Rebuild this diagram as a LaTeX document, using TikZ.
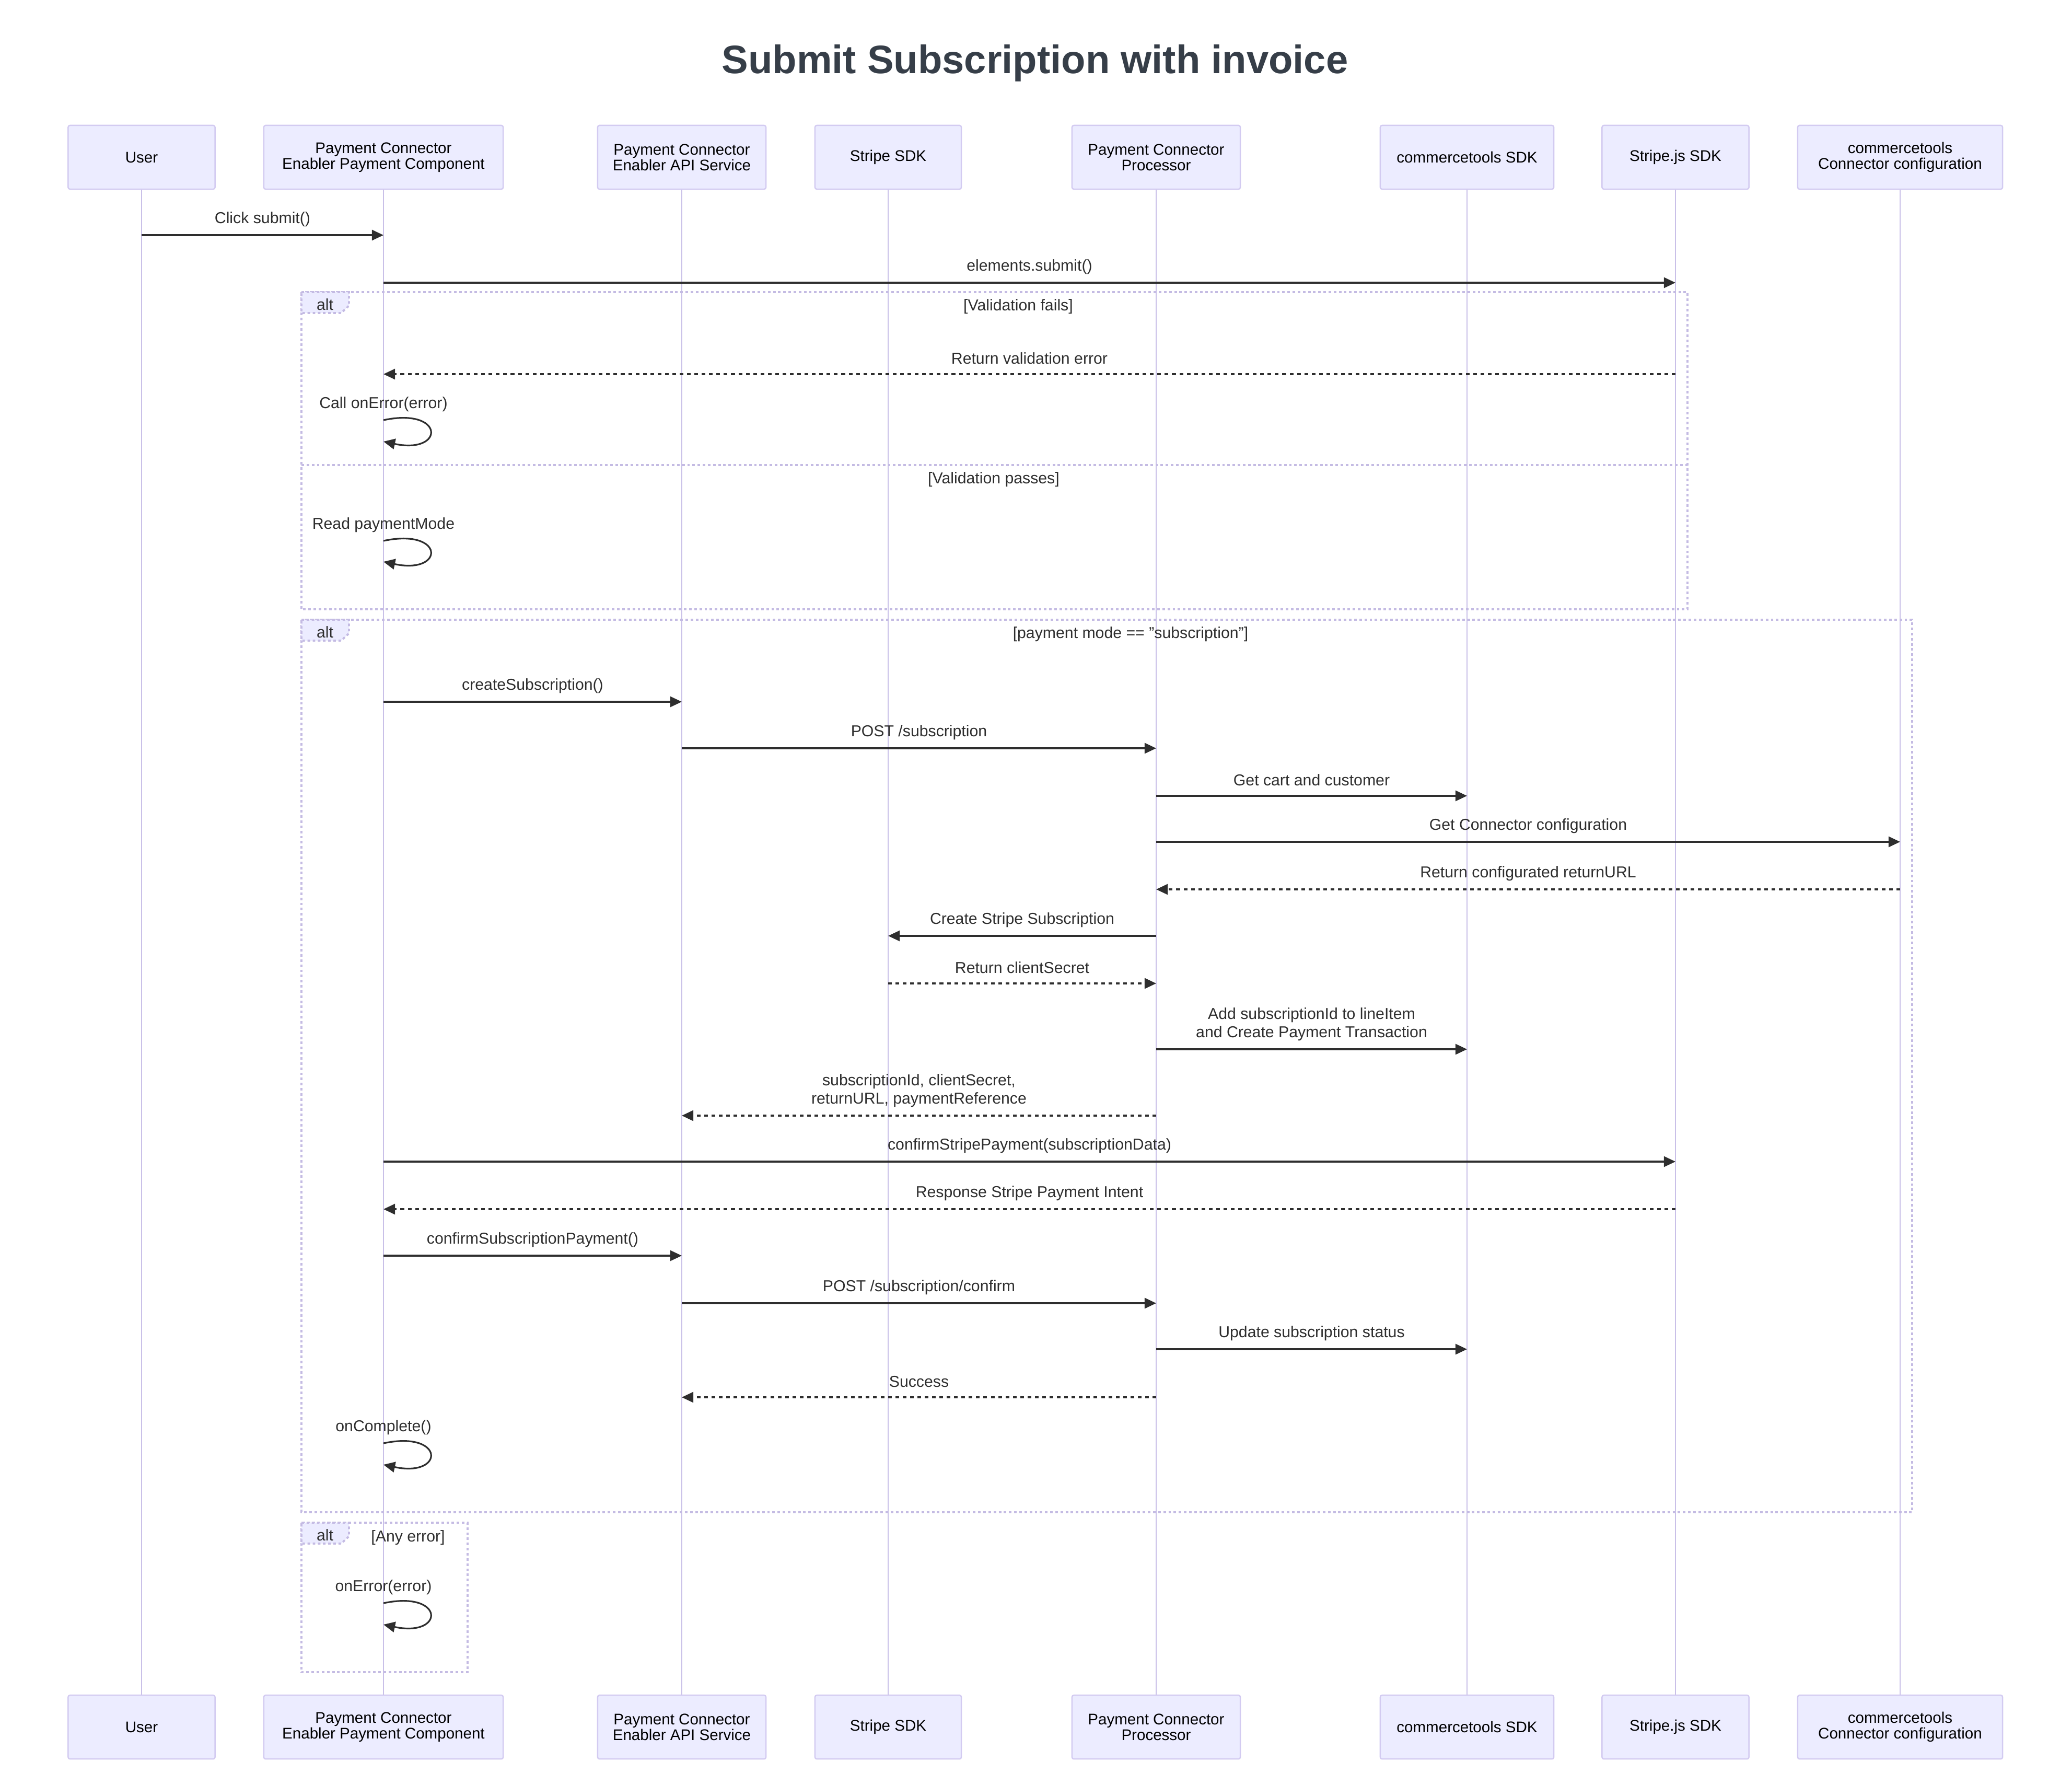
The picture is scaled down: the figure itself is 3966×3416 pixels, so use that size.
\documentclass[tikz,border=0pt]{standalone}
\usepackage{fontspec}
\setmainfont{Liberation Sans}
\usetikzlibrary{arrows.meta,positioning}
\definecolor{actfill}{HTML}{ECECFF}
\definecolor{actline}{HTML}{D3CBF1}
\definecolor{lifeln}{HTML}{C9C0E8}
\definecolor{msgcol}{HTML}{2E2E2E}
\definecolor{titlecol}{HTML}{363E48}
\definecolor{altline}{HTML}{C4BBE3}
\begin{document}
\begin{tikzpicture}[x=0.01cm,y=-0.01cm,
	actor/.style={draw=actline,fill=actfill,line width=0.7pt,rounded corners=1pt,minimum height=1.22cm,inner sep=0pt,align=center,text=black,font=\fontsize{8.4pt}{8.5pt}\selectfont},
	lifeline/.style={draw=lifeln,line width=0.6pt},
	msg/.style={draw=msgcol,line width=0.9pt,-{Triangle[length=6.3pt,width=5.7pt]}},
	reply/.style={msg,dash pattern=on 2pt off 2pt},
	lbl/.style={text=msgcol,align=center,font=\fontsize{8.6pt}{10pt}\selectfont},
	altbox/.style={draw=altline,line width=1.1pt,dash pattern=on 1.4pt off 1.4pt},
	alttab/.style={altbox,fill=actfill}]
	\useasboundingbox (0,0) rectangle (3966,3416);

	\node[font=\bfseries\fontsize{21.6pt}{24pt}\selectfont,text=titlecol] (title) at (1981,121) {Submit Subscription with invoice};

	\node[actor,minimum width=2.81cm] (p1) at (271,301) {User};
	\node[actor,minimum width=4.58cm] (p2) at (734,301) {Payment Connector\\Enabler Payment Component};
	\node[actor,minimum width=3.22cm] (p3) at (1305,301) {Payment Connector\\Enabler API Service};
	\node[actor,minimum width=2.80cm] (p4) at (1700,301) {Stripe SDK};
	\node[actor,minimum width=3.22cm] (p5) at (2213,301) {Payment Connector\\Processor};
	\node[actor,minimum width=3.32cm] (p6) at (2808,301) {commercetools SDK};
	\node[actor,minimum width=2.81cm] (p7) at (3207,301) {Stripe.js SDK};
	\node[actor,minimum width=3.92cm] (p8) at (3637,301) {commercetools\\Connector configuration};

	\node[actor,minimum width=2.81cm] (q1) [below=28.78cm of p1] {User};
	\node[actor,minimum width=4.58cm] (q2) [below=28.78cm of p2] {Payment Connector\\Enabler Payment Component};
	\node[actor,minimum width=3.22cm] (q3) [below=28.78cm of p3] {Payment Connector\\Enabler API Service};
	\node[actor,minimum width=2.80cm] (q4) [below=28.78cm of p4] {Stripe SDK};
	\node[actor,minimum width=3.22cm] (q5) [below=28.78cm of p5] {Payment Connector\\Processor};
	\node[actor,minimum width=3.32cm] (q6) [below=28.78cm of p6] {commercetools SDK};
	\node[actor,minimum width=2.81cm] (q7) [below=28.78cm of p7] {Stripe.js SDK};
	\node[actor,minimum width=3.92cm] (q8) [below=28.78cm of p8] {commercetools\\Connector configuration};

	\draw[lifeline] (p1) -- (q1);
	\draw[lifeline] (p2) -- (q2);
	\draw[lifeline] (p3) -- (q3);
	\draw[lifeline] (p4) -- (q4);
	\draw[lifeline] (p5) -- (q5);
	\draw[lifeline] (p6) -- (q6);
	\draw[lifeline] (p7) -- (q7);
	\draw[lifeline] (p8) -- (q8);

	\draw[altbox] (577,559) rectangle (3230,1166);
	\draw[altbox] (577,890) -- (3230,890);
	\draw[alttab] (577,559) -- (668,559) -- (668,585) -- (653,599) -- (577,599) -- cycle;
	\node[lbl] (alt1) at (622,583) {alt};
	\node[lbl] (fails) at (1949,587) {[Validation fails]};
	\node[lbl] (passes) at (1902,918) {[Validation passes]};

	\draw[altbox] (577,1186) rectangle (3660,2894);
	\draw[alttab] (577,1186) -- (668,1186) -- (668,1212) -- (653,1226) -- (577,1226) -- cycle;
	\node[lbl] (alt2) at (622,1210) {alt};
	\node[lbl] (mode) at (2164,1214) {[payment mode == "subscription"]};

	\draw[altbox] (577,2914) rectangle (895,3200);
	\draw[alttab] (577,2914) -- (668,2914) -- (668,2940) -- (653,2954) -- (577,2954) -- cycle;
	\node[lbl] (alt3) at (622,2938) {alt};
	\node[lbl] (anyerr) at (781,2943) {[Any error]};

	\draw[msg] (p1 |- 0,450) -- node[lbl,yshift=0.30cm] {Click submit()} (p2 |- 0,450);
	\draw[msg] (p2 |- 0,541) -- node[lbl,yshift=0.30cm] {elements.submit()} (p7 |- 0,541);
	\draw[reply] (p7 |- 0,716) -- node[lbl,yshift=0.30cm] {Return validation error} (p2 |- 0,716);
	\draw[msg] (p2 |- 0,804) .. controls +(118,-25) and +(118,25) .. node[lbl,pos=0,yshift=0.30cm] {Call onError(error)} (p2 |- 0,845);
	\draw[msg] (p2 |- 0,1035) .. controls +(118,-25) and +(118,25) .. node[lbl,pos=0,yshift=0.30cm] {Read paymentMode} (p2 |- 0,1075);

	\draw[msg] (p2 |- 0,1343) -- node[lbl,yshift=0.30cm] {createSubscription()} (p3 |- 0,1343);
	\draw[msg] (p3 |- 0,1432) -- node[lbl,yshift=0.30cm] {POST /subscription} (p5 |- 0,1432);
	\draw[msg] (p5 |- 0,1523) -- node[lbl,yshift=0.30cm] {Get cart and customer} (p6 |- 0,1523);
	\draw[msg] (p5 |- 0,1611) -- node[lbl,yshift=0.30cm] {Get Connector configuration} (p8 |- 0,1611);
	\draw[reply] (p8 |- 0,1702) -- node[lbl,yshift=0.30cm] {Return configurated returnURL} (p5 |- 0,1702);
	\draw[msg] (p5 |- 0,1791) -- node[lbl,yshift=0.30cm] {Create Stripe Subscription} (p4 |- 0,1791);
	\draw[reply] (p4 |- 0,1882) -- node[lbl,yshift=0.30cm] {Return clientSecret} (p5 |- 0,1882);
	\draw[msg] (p5 |- 0,2008) -- node[lbl,yshift=0.48cm] {Add subscriptionId to lineItem\\and Create Payment Transaction} (p6 |- 0,2008);
	\draw[reply] (p5 |- 0,2135) -- node[lbl,yshift=0.48cm] {subscriptionId, clientSecret,\\returnURL, paymentReference} (p3 |- 0,2135);
	\draw[msg] (p2 |- 0,2223) -- node[lbl,yshift=0.30cm] {confirmStripePayment(subscriptionData)} (p7 |- 0,2223);
	\draw[reply] (p7 |- 0,2314) -- node[lbl,yshift=0.30cm] {Response Stripe Payment Intent} (p2 |- 0,2314);
	\draw[msg] (p2 |- 0,2403) -- node[lbl,yshift=0.30cm] {confirmSubscriptionPayment()} (p3 |- 0,2403);
	\draw[msg] (p3 |- 0,2494) -- node[lbl,yshift=0.30cm] {POST /subscription/confirm} (p5 |- 0,2494);
	\draw[msg] (p5 |- 0,2582) -- node[lbl,yshift=0.30cm] {Update subscription status} (p6 |- 0,2582);
	\draw[reply] (p5 |- 0,2674) -- node[lbl,yshift=0.30cm] {Success} (p3 |- 0,2674);
	\draw[msg] (p2 |- 0,2762) .. controls +(118,-25) and +(118,25) .. node[lbl,pos=0,yshift=0.30cm] {onComplete()} (p2 |- 0,2803);

	\draw[msg] (p2 |- 0,3068) .. controls +(118,-25) and +(118,25) .. node[lbl,pos=0,yshift=0.30cm] {onError(error)} (p2 |- 0,3109);
\end{tikzpicture}
\end{document}
